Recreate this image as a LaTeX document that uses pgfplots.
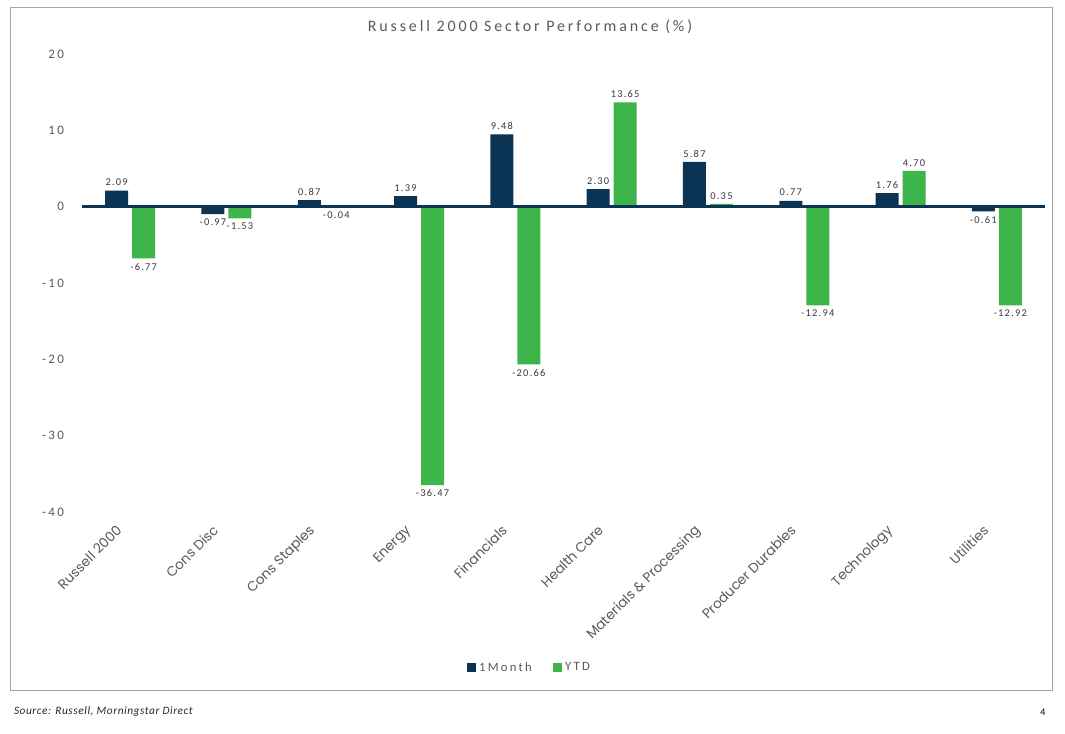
\documentclass[border=0pt]{standalone}
\usepackage{fontspec}
\setmainfont{Carlito}
\newfontfamily\spaced[LetterSpace=18]{Carlito}
\newfontfamily\lspaced[LetterSpace=12]{Carlito}
\newfontfamily\sspaced[LetterSpace=5]{Carlito}
\newfontfamily\tickfont{Poppins}
\usepackage{pgfplots}
\pgfplotsset{compat=1.18}
\definecolor{navy}{HTML}{0B3354}
\definecolor{grn}{HTML}{3DB54A}
\definecolor{txt}{HTML}{595959}
\definecolor{frame}{HTML}{A6A6A6}
\begin{document}
\begin{tikzpicture}
\path[use as bounding box] (0pt,0pt) rectangle (798.75pt,-550.5pt);
\draw[frame, line width=0.6pt] (7.5pt,-5.25pt) rectangle (789pt,-517.5pt);
\node[text=txt, font=\spaced\fontsize{12}{14}\selectfont] at (397.5pt,-20.25pt) {Russell 2000 Sector Performance (\%)};
\node[anchor=west, font=\sspaced\itshape\fontsize{8.5}{10}\selectfont, text=black!85] at (7pt,-534pt) {Source: Russell, Morningstar Direct};
\node[font=\fontsize{7.5}{9}\selectfont] at (782.25pt,-534pt) {4};
\begin{axis}[
  at={(61.5pt,-384pt)}, anchor=south west,
  scale only axis, width=722.25pt, height=343.5pt,
  xmin=-0.5, xmax=9.5, ymin=-40, ymax=20,
  axis line style={draw=none},
  ybar=3pt, bar width=17.25pt,
  ytick={-40,-30,-20,-10,0,10,20},
  xtick={0,...,9},
  xticklabels={Russell 2000,Cons Disc,Cons Staples,Energy,Financials,Health Care,Materials \& Processing,Producer Durables,Technology,Utilities},
  major tick length=0pt,
  yticklabel style={font=\spaced\fontsize{9.75}{11}\selectfont, text=txt, xshift=-10pt},
  xticklabel style={font=\tickfont\fontsize{10.2}{12}\selectfont, text=txt, xshift=-11pt, yshift=-4pt, rotate=45, anchor=north east},
  /pgf/number format/assume math mode=true,
  nodes near coords={\pgfmathprintnumber[fixed,zerofill,precision=2,assume math mode=true]{\pgfplotspointmeta}},
  nodes near coords style={font=\lspaced\fontsize{7.8}{9}\selectfont, text=black!78},
  legend style={at={(0.465,-0.34)}, anchor=center, draw=none, legend columns=2,
    font=\spaced\fontsize{9.5}{11}\selectfont, text=txt,
    /tikz/every even column/.append style={column sep=14pt}},
  legend image code/.code={\fill[#1] (0pt,-3.5pt) rectangle (7pt,3.5pt);},
]
\addplot[fill=navy, draw=none] coordinates {(0,2.09) (1,-0.97) (2,0.87) (3,1.39) (4,9.48) (5,2.30) (6,5.87) (7,0.77) (8,1.76) (9,-0.61)};
\addplot[fill=grn, draw=none] coordinates {(0,-6.77) (1,-1.53) (2,-0.04) (3,-36.47) (4,-20.66) (5,13.65) (6,0.35) (7,-12.94) (8,4.70) (9,-12.92)};
\legend{1Month,YTD}
\draw[navy, line width=2.2pt] (axis cs:-0.5,0) -- (axis cs:9.5,0);
\end{axis}
\end{tikzpicture}
\end{document}
